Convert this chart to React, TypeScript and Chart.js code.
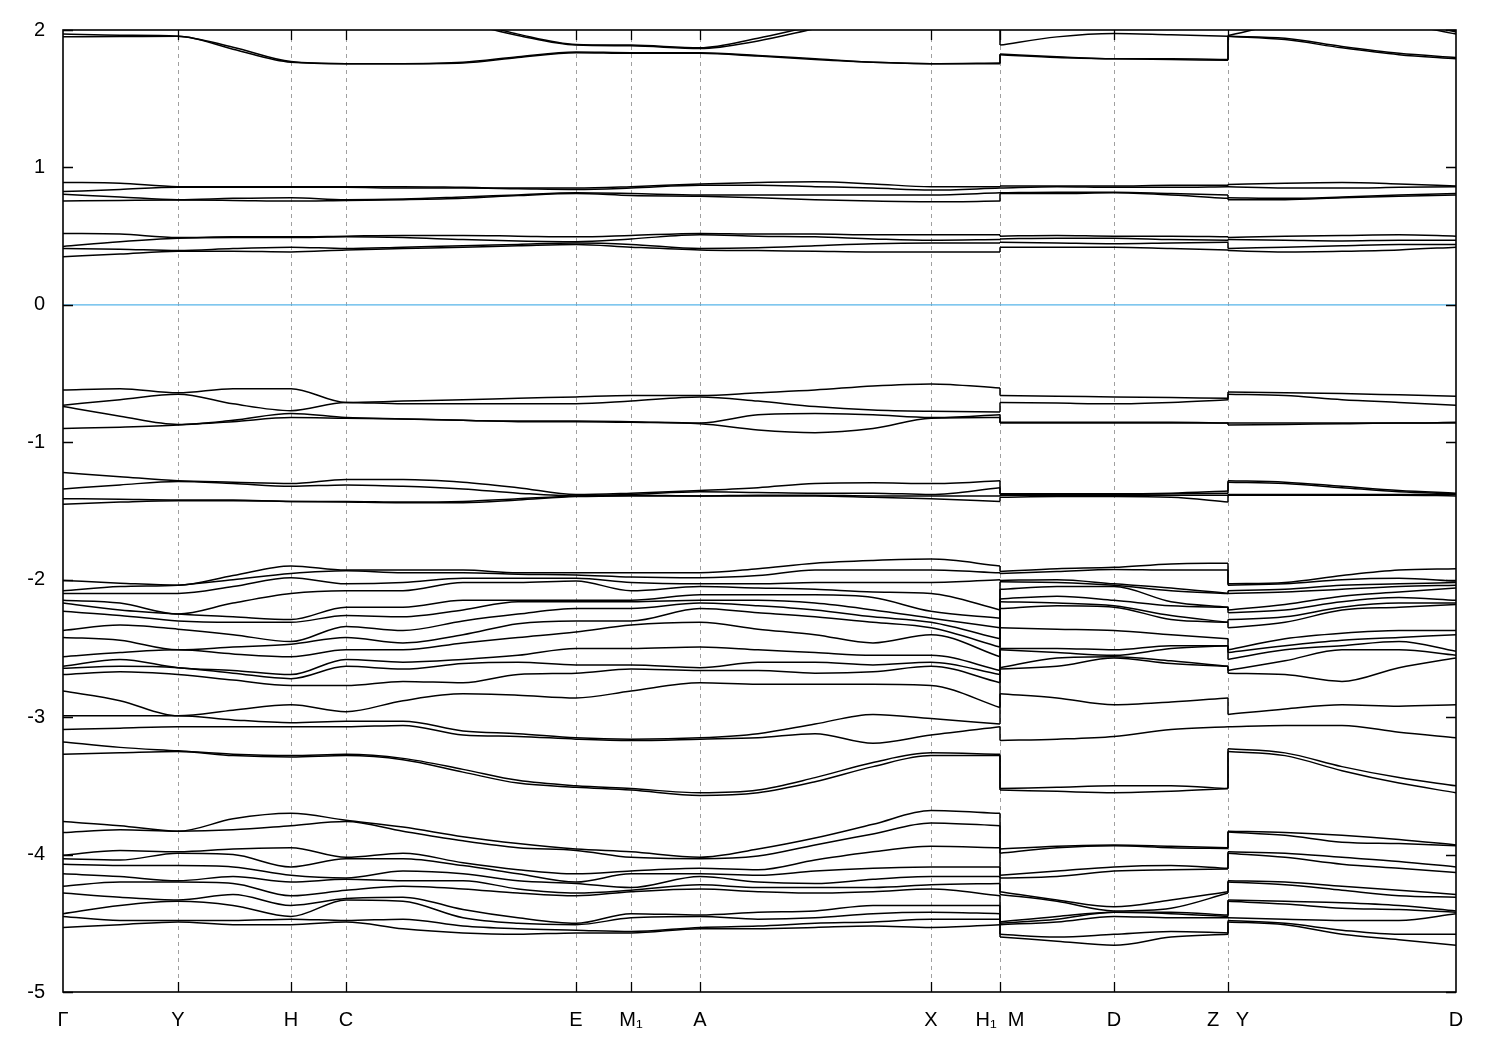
import React, { useEffect, useRef } from 'react';
import { Chart, registerables } from 'chart.js';
Chart.register(...registerables);

// k-path distances (arbitrary units). Duplicate entries mark path discontinuities (H1|M, Z|Y).
const kPath = [0, 57, 115, 170, 228, 283, 340, 400, 455, 513, 568, 637, 695, 752, 810, 868, 937, 937, 994, 1051, 1108, 1165, 1165, 1222, 1279, 1336, 1393];
const tickPos = [0, 115, 228, 283, 513, 568, 637, 868, 937, 1051, 1165, 1393];
const tickLabels = ['Γ', 'Y', 'H', 'C', 'E', 'M₁', 'A', 'X', 'H₁  M', 'D', 'Z   Y', 'D'];
const yTicks = [2, 1, 0, -1, -2, -3, -4, -5];

// band groups given band-by-band along the path (eV)
const topBands = [
  [1.95, 1.952, 1.955, 1.86, 1.765, 1.755, 1.755, 1.76, 1.80, 1.835, 1.83, 1.83, 1.81, 1.785, 1.765, 1.755, 1.755, 1.82, 1.80, 1.79, 1.785, 1.78, 1.955, 1.93, 1.87, 1.82, 1.79],
  [1.97, 1.962, 1.955, 1.875, 1.77, 1.755, 1.755, 1.765, 1.805, 1.84, 1.835, 1.835, 1.815, 1.79, 1.765, 1.755, 1.76, 1.825, 1.805, 1.79, 1.79, 1.785, 1.955, 1.94, 1.88, 1.83, 1.80],
  [2.1, 2.1, 2.1, 2.1, 2.1, 2.1, 2.1, 2.05, 1.96, 1.89, 1.885, 1.865, 1.92, 2.01, 2.1, 2.15, 2.15, 1.89, 1.95, 1.975, 1.965, 1.955, 1.96, 2.05, 2.1, 2.05, 1.97],
  [2.15, 2.15, 2.15, 2.15, 2.15, 2.15, 2.15, 2.07, 1.97, 1.895, 1.89, 1.87, 1.94, 2.03, 2.1, 2.2, 2.2, 2.1, 2.1, 2.1, 2.1, 2.1, 2.1, 2.1, 2.1, 2.08, 1.985],
];
const upperBands = [
  [0.756, 0.76, 0.763, 0.76, 0.755, 0.76, 0.765, 0.775, 0.795, 0.81, 0.795, 0.79, 0.78, 0.765, 0.755, 0.75, 0.755, 0.81, 0.81, 0.815, 0.80, 0.775, 0.765, 0.765, 0.78, 0.79, 0.80],
  [0.804, 0.785, 0.765, 0.775, 0.78, 0.765, 0.77, 0.785, 0.80, 0.815, 0.81, 0.80, 0.80, 0.80, 0.80, 0.80, 0.815, 0.815, 0.82, 0.82, 0.81, 0.80, 0.78, 0.775, 0.785, 0.80, 0.81],
  [0.824, 0.84, 0.855, 0.855, 0.855, 0.855, 0.85, 0.85, 0.845, 0.84, 0.85, 0.87, 0.87, 0.86, 0.85, 0.835, 0.85, 0.85, 0.86, 0.855, 0.855, 0.86, 0.86, 0.85, 0.85, 0.855, 0.86],
  [0.891, 0.885, 0.86, 0.86, 0.86, 0.86, 0.86, 0.855, 0.85, 0.85, 0.86, 0.88, 0.89, 0.895, 0.88, 0.86, 0.86, 0.865, 0.865, 0.865, 0.87, 0.87, 0.875, 0.885, 0.89, 0.88, 0.865],
];
const lowerCondBands = [
  [0.35, 0.37, 0.39, 0.39, 0.385, 0.40, 0.41, 0.42, 0.43, 0.44, 0.42, 0.40, 0.395, 0.39, 0.385, 0.385, 0.385, 0.42, 0.42, 0.42, 0.41, 0.40, 0.395, 0.385, 0.39, 0.40, 0.42],
  [0.41, 0.405, 0.395, 0.41, 0.42, 0.41, 0.42, 0.43, 0.44, 0.45, 0.44, 0.41, 0.415, 0.43, 0.445, 0.45, 0.45, 0.455, 0.45, 0.445, 0.45, 0.455, 0.41, 0.42, 0.43, 0.44, 0.44],
  [0.425, 0.46, 0.485, 0.49, 0.49, 0.495, 0.49, 0.475, 0.465, 0.46, 0.48, 0.51, 0.50, 0.495, 0.48, 0.47, 0.475, 0.48, 0.485, 0.485, 0.475, 0.47, 0.475, 0.47, 0.465, 0.47, 0.47],
  [0.52, 0.515, 0.49, 0.495, 0.495, 0.50, 0.505, 0.505, 0.50, 0.495, 0.505, 0.52, 0.515, 0.515, 0.51, 0.51, 0.51, 0.50, 0.505, 0.50, 0.50, 0.495, 0.49, 0.50, 0.505, 0.51, 0.50],
];
const valenceTopBands = [
  [-0.62, -0.61, -0.64, -0.61, -0.61, -0.71, -0.70, -0.69, -0.68, -0.67, -0.66, -0.66, -0.64, -0.62, -0.59, -0.575, -0.605, -0.66, -0.665, -0.67, -0.675, -0.68, -0.635, -0.64, -0.645, -0.655, -0.665],
  [-0.73, -0.69, -0.65, -0.72, -0.77, -0.71, -0.72, -0.72, -0.72, -0.72, -0.70, -0.67, -0.70, -0.74, -0.765, -0.775, -0.78, -0.71, -0.715, -0.72, -0.71, -0.69, -0.65, -0.66, -0.69, -0.71, -0.73],
  [-0.74, -0.81, -0.87, -0.84, -0.79, -0.82, -0.83, -0.84, -0.845, -0.845, -0.85, -0.86, -0.80, -0.79, -0.80, -0.82, -0.80, -0.855, -0.855, -0.855, -0.855, -0.86, -0.86, -0.86, -0.86, -0.86, -0.855],
  [-0.90, -0.89, -0.875, -0.85, -0.82, -0.825, -0.83, -0.84, -0.85, -0.85, -0.855, -0.865, -0.91, -0.93, -0.90, -0.825, -0.82, -0.86, -0.86, -0.86, -0.86, -0.86, -0.875, -0.87, -0.865, -0.86, -0.86],
];
const valenceSecondBands = [
  [-1.22, -1.25, -1.28, -1.29, -1.30, -1.27, -1.27, -1.29, -1.33, -1.38, -1.37, -1.35, -1.33, -1.30, -1.295, -1.30, -1.28, -1.375, -1.375, -1.375, -1.37, -1.355, -1.28, -1.29, -1.32, -1.35, -1.37],
  [-1.34, -1.31, -1.285, -1.30, -1.32, -1.31, -1.32, -1.34, -1.37, -1.39, -1.38, -1.36, -1.365, -1.37, -1.37, -1.38, -1.33, -1.38, -1.38, -1.38, -1.375, -1.37, -1.29, -1.30, -1.33, -1.36, -1.375],
  [-1.41, -1.415, -1.42, -1.42, -1.43, -1.43, -1.435, -1.43, -1.41, -1.39, -1.385, -1.39, -1.385, -1.385, -1.39, -1.39, -1.39, -1.385, -1.385, -1.385, -1.385, -1.385, -1.38, -1.38, -1.38, -1.38, -1.38],
  [-1.45, -1.435, -1.425, -1.425, -1.43, -1.435, -1.44, -1.44, -1.42, -1.395, -1.39, -1.39, -1.39, -1.39, -1.40, -1.41, -1.43, -1.40, -1.395, -1.395, -1.40, -1.435, -1.385, -1.385, -1.385, -1.385, -1.39],
];
const deepPairBands = [
  [-3.18, -3.22, -3.245, -3.27, -3.28, -3.27, -3.30, -3.38, -3.46, -3.50, -3.52, -3.55, -3.53, -3.44, -3.33, -3.26, -3.27, -3.52, -3.51, -3.50, -3.50, -3.52, -3.23, -3.26, -3.36, -3.44, -3.50],
  [-3.27, -3.26, -3.25, -3.28, -3.29, -3.28, -3.31, -3.40, -3.48, -3.51, -3.53, -3.57, -3.55, -3.47, -3.36, -3.28, -3.28, -3.53, -3.54, -3.55, -3.54, -3.52, -3.25, -3.28, -3.39, -3.48, -3.55],
];

// dense groups given as energies at each k-point (one row per kPath entry)
const denseRows = [
  [-2.005, -2.08, -2.10, -2.15, -2.17, -2.23, -2.37, -2.42, -2.56, -2.63, -2.645, -2.69, -2.81, -2.99, -3.09],
  [-2.025, -2.05, -2.10, -2.17, -2.22, -2.26, -2.33, -2.44, -2.53, -2.58, -2.63, -2.67, -2.88, -2.99, -3.08],
  [-2.04, -2.04, -2.10, -2.25, -2.25, -2.30, -2.36, -2.51, -2.51, -2.64, -2.64, -2.69, -2.99, -2.99, -3.07],
  [-1.97, -2.00, -2.05, -2.17, -2.27, -2.31, -2.40, -2.49, -2.54, -2.66, -2.68, -2.73, -2.95, -3.02, -3.07],
  [-1.90, -1.955, -1.985, -2.10, -2.29, -2.31, -2.45, -2.47, -2.56, -2.69, -2.72, -2.77, -2.91, -3.04, -3.07],
  [-1.93, -1.935, -2.03, -2.08, -2.20, -2.26, -2.34, -2.42, -2.51, -2.58, -2.63, -2.77, -2.96, -3.03, -3.07],
  [-1.93, -1.95, -2.02, -2.08, -2.20, -2.27, -2.37, -2.46, -2.51, -2.60, -2.65, -2.74, -2.88, -3.03, -3.06],
  [-1.93, -1.95, -1.99, -2.02, -2.15, -2.22, -2.30, -2.40, -2.46, -2.58, -2.61, -2.75, -2.83, -3.10, -3.13],
  [-1.95, -1.96, -1.99, -2.02, -2.15, -2.16, -2.25, -2.32, -2.42, -2.55, -2.60, -2.69, -2.84, -3.12, -3.14],
  [-1.95, -1.965, -1.99, -2.01, -2.15, -2.16, -2.21, -2.30, -2.38, -2.50, -2.62, -2.68, -2.86, -3.15, -3.16],
  [-1.95, -1.98, -2.02, -2.08, -2.15, -2.16, -2.21, -2.30, -2.33, -2.50, -2.62, -2.65, -2.81, -3.16, -3.17],
  [-1.95, -1.985, -2.03, -2.05, -2.11, -2.15, -2.17, -2.21, -2.31, -2.49, -2.64, -2.66, -2.75, -3.15, -3.16],
  [-1.92, -1.97, -2.03, -2.06, -2.11, -2.15, -2.19, -2.24, -2.36, -2.51, -2.60, -2.66, -2.76, -3.12, -3.15],
  [-1.88, -1.93, -2.02, -2.07, -2.11, -2.17, -2.22, -2.27, -2.40, -2.53, -2.60, -2.68, -2.76, -3.05, -3.12],
  [-1.86, -1.93, -2.02, -2.09, -2.13, -2.22, -2.27, -2.31, -2.46, -2.55, -2.62, -2.67, -2.76, -2.98, -3.19],
  [-1.85, -1.93, -2.02, -2.10, -2.23, -2.28, -2.31, -2.35, -2.40, -2.55, -2.60, -2.63, -2.77, -3.01, -3.13],
  [-1.90, -1.95, -2.00, -2.22, -2.28, -2.35, -2.43, -2.49, -2.56, -2.66, -2.69, -2.75, -2.93, -3.05, -3.07],
  [-1.94, -1.955, -2.005, -2.015, -2.07, -2.14, -2.16, -2.21, -2.35, -2.50, -2.51, -2.64, -2.65, -2.83, -3.17],
  [-1.92, -1.94, -2.00, -2.02, -2.05, -2.12, -2.17, -2.19, -2.36, -2.50, -2.53, -2.57, -2.63, -2.86, -3.16],
  [-1.91, -1.925, -2.03, -2.04, -2.05, -2.15, -2.19, -2.20, -2.37, -2.51, -2.55, -2.56, -2.57, -2.91, -3.14],
  [-1.885, -1.93, -2.06, -2.08, -2.16, -2.19, -2.26, -2.29, -2.40, -2.48, -2.50, -2.59, -2.61, -2.89, -3.09],
  [-1.88, -1.93, -2.10, -2.10, -2.20, -2.20, -2.31, -2.31, -2.43, -2.48, -2.48, -2.63, -2.63, -2.86, -3.07],
  [-2.03, -2.04, -2.08, -2.10, -2.22, -2.24, -2.29, -2.35, -2.51, -2.53, -2.58, -2.66, -2.68, -2.98, -3.07],
  [-2.02, -2.03, -2.07, -2.09, -2.18, -2.22, -2.27, -2.31, -2.43, -2.48, -2.51, -2.59, -2.69, -2.94, -3.06],
  [-1.97, -2.00, -2.04, -2.07, -2.12, -2.16, -2.20, -2.22, -2.39, -2.44, -2.48, -2.51, -2.74, -2.91, -3.06],
  [-1.93, -1.99, -2.03, -2.05, -2.09, -2.13, -2.17, -2.20, -2.37, -2.42, -2.45, -2.51, -2.64, -2.92, -3.11],
  [-1.92, -2.01, -2.02, -2.04, -2.06, -2.15, -2.17, -2.18, -2.37, -2.40, -2.52, -2.55, -2.57, -2.91, -3.15],
];
const lowRows = [
  [-3.76, -3.84, -4.005, -4.03, -4.07, -4.14, -4.23, -4.28, -4.43, -4.45, -4.53],
  [-3.79, -3.82, -3.97, -4.04, -4.08, -4.16, -4.20, -4.31, -4.37, -4.48, -4.51],
  [-3.83, -3.83, -3.98, -3.99, -4.08, -4.19, -4.20, -4.33, -4.34, -4.48, -4.49],
  [-3.74, -3.82, -3.96, -4.00, -4.09, -4.16, -4.21, -4.29, -4.37, -4.48, -4.51],
  [-3.70, -3.79, -3.95, -4.09, -4.15, -4.20, -4.30, -4.37, -4.45, -4.47, -4.51],
  [-3.75, -3.76, -4.02, -4.03, -4.17, -4.18, -4.26, -4.32, -4.33, -4.48, -4.49],
  [-3.80, -3.83, -3.99, -4.03, -4.12, -4.19, -4.23, -4.31, -4.34, -4.47, -4.54],
  [-3.87, -3.90, -4.06, -4.08, -4.14, -4.19, -4.25, -4.40, -4.46, -4.52, -4.57],
  [-3.92, -3.95, -4.11, -4.14, -4.19, -4.25, -4.28, -4.46, -4.50, -4.54, -4.58],
  [-3.96, -3.97, -4.14, -4.20, -4.21, -4.28, -4.30, -4.50, -4.51, -4.55, -4.57],
  [-3.98, -4.02, -4.12, -4.14, -4.24, -4.26, -4.27, -4.43, -4.46, -4.56, -4.57],
  [-4.02, -4.03, -4.10, -4.14, -4.16, -4.22, -4.25, -4.44, -4.45, -4.53, -4.54],
  [-3.96, -4.01, -4.11, -4.15, -4.20, -4.24, -4.27, -4.42, -4.47, -4.52, -4.54],
  [-3.88, -3.93, -4.04, -4.12, -4.21, -4.24, -4.28, -4.41, -4.46, -4.50, -4.53],
  [-3.78, -3.85, -3.98, -4.10, -4.18, -4.24, -4.27, -4.37, -4.43, -4.49, -4.52],
  [-3.68, -3.77, -3.94, -4.09, -4.16, -4.22, -4.25, -4.37, -4.42, -4.47, -4.53],
  [-3.70, -3.79, -3.95, -4.09, -4.16, -4.21, -4.30, -4.37, -4.43, -4.47, -4.51],
  [-3.96, -3.99, -4.15, -4.17, -4.27, -4.29, -4.49, -4.50, -4.51, -4.58, -4.60],
  [-3.94, -3.95, -4.12, -4.16, -4.33, -4.34, -4.45, -4.47, -4.49, -4.60, -4.63],
  [-3.93, -3.935, -4.09, -4.12, -4.38, -4.41, -4.42, -4.42, -4.45, -4.58, -4.66],
  [-3.94, -3.95, -4.08, -4.11, -4.33, -4.39, -4.42, -4.43, -4.46, -4.56, -4.60],
  [-3.95, -3.955, -4.10, -4.105, -4.27, -4.28, -4.44, -4.45, -4.46, -4.57, -4.58],
  [-3.83, -3.835, -3.98, -3.99, -4.19, -4.20, -4.33, -4.34, -4.46, -4.48, -4.49],
  [-3.84, -3.86, -3.99, -4.02, -4.20, -4.22, -4.34, -4.36, -4.47, -4.50, -4.51],
  [-3.86, -3.91, -4.02, -4.07, -4.23, -4.26, -4.35, -4.39, -4.48, -4.55, -4.58],
  [-3.89, -3.92, -4.05, -4.10, -4.26, -4.30, -4.37, -4.40, -4.48, -4.58, -4.62],
  [-3.93, -3.935, -4.09, -4.13, -4.29, -4.31, -4.41, -4.42, -4.43, -4.58, -4.66],
];

const segments = [[0, 16], [17, 21], [22, 26]];
const jumps = [[16, 17], [21, 22]];
const FONT = '"Liberation Sans", Arial, Helvetica, sans-serif';

function rowsFromBands(b: number[][]): number[][] {
  return b[0].map((_, j) => b.map((r) => r[j]));
}
function sortedBands(rows: number[][]): number[][] {
  const s = rows.map((r) => [...r].sort((a, c) => c - a));
  return s[0].map((_, i) => s.map((r) => r[i]));
}

function buildDatasets() {
  const groups = [
    rowsFromBands(topBands),
    rowsFromBands(upperBands),
    rowsFromBands(lowerCondBands),
    rowsFromBands(valenceTopBands),
    rowsFromBands(valenceSecondBands),
    denseRows,
    rowsFromBands(deepPairBands),
    lowRows,
  ];
  const style = {
    borderColor: '#000000',
    borderWidth: 1.5,
    pointRadius: 0,
    fill: false,
  };
  const ds: any[] = [];
  for (const g of groups) {
    for (const band of sortedBands(g)) {
      for (const [a, b] of segments) {
        ds.push({
          ...style,
          cubicInterpolationMode: 'monotone',
          data: band.slice(a, b + 1).map((y, j) => ({ x: kPath[a + j], y })),
        });
      }
      for (const [a, b] of jumps) {
        ds.push({
          ...style,
          tension: 0,
          data: [
            { x: kPath[a], y: band[a] },
            { x: kPath[b], y: band[b] },
          ],
        });
      }
    }
  }
  ds.push({
    borderColor: '#56b4e9',
    borderWidth: 1.2,
    pointRadius: 0,
    tension: 0,
    data: [
      { x: kPath[0], y: 0 },
      { x: kPath[kPath.length - 1], y: 0 },
    ],
  });
  return ds;
}

const framePlugin = {
  id: 'frame',
  beforeDatasetsDraw(chart: any) {
    const { ctx, chartArea } = chart;
    const xs = chart.scales.x;
    ctx.save();
    ctx.strokeStyle = '#a0a0a0';
    ctx.lineWidth = 1;
    ctx.setLineDash([4, 4]);
    for (let i = 1; i < tickPos.length - 1; i++) {
      const px = Math.round(xs.getPixelForValue(tickPos[i])) + 0.5;
      ctx.beginPath();
      ctx.moveTo(px, chartArea.top);
      ctx.lineTo(px, chartArea.bottom);
      ctx.stroke();
    }
    ctx.restore();
  },
  afterDatasetsDraw(chart: any) {
    const { ctx, chartArea } = chart;
    const xs = chart.scales.x;
    const ys = chart.scales.y;
    const { left, right, top, bottom } = chartArea;
    const tl = 10;
    ctx.save();
    ctx.strokeStyle = '#000';
    ctx.lineWidth = 1.6;
    ctx.setLineDash([]);
    ctx.strokeRect(left, top, right - left, bottom - top);
    ctx.lineWidth = 1.3;
    ctx.beginPath();
    for (const v of yTicks) {
      const py = Math.round(ys.getPixelForValue(v)) + 0.5;
      ctx.moveTo(left, py);
      ctx.lineTo(left + tl, py);
      ctx.moveTo(right, py);
      ctx.lineTo(right - tl, py);
    }
    for (let i = 1; i < tickPos.length - 1; i++) {
      const px = Math.round(xs.getPixelForValue(tickPos[i])) + 0.5;
      ctx.moveTo(px, bottom);
      ctx.lineTo(px, bottom - tl);
      ctx.moveTo(px, top);
      ctx.lineTo(px, top + tl);
    }
    ctx.stroke();
    ctx.restore();
  },
};

export default function App() {
  const ref = useRef<HTMLCanvasElement | null>(null);
  useEffect(() => {
    if (!ref.current) return;
    document.body.style.margin = '0';
    const chart = new Chart(ref.current, {
      type: 'line',
      data: { datasets: buildDatasets() },
      options: {
        animation: false,
        responsive: false,
        devicePixelRatio: 1,
        events: [],
        layout: { padding: { left: 0, right: 44, top: 28, bottom: 0 } },
        plugins: { legend: { display: false }, tooltip: { enabled: false } },
        scales: {
          x: {
            type: 'linear',
            min: kPath[0],
            max: kPath[kPath.length - 1],
            grid: { display: false, drawTicks: false },
            border: { display: false },
            afterBuildTicks: (s: any) => {
              s.ticks = tickPos.map((v) => ({ value: v }));
            },
            afterFit: (s: any) => {
              s.height = 58;
            },
            ticks: {
              autoSkip: false,
              maxRotation: 0,
              minRotation: 0,
              padding: 16,
              color: '#000',
              font: { family: FONT, size: 20 },
              callback: (_v: any, i: number) => tickLabels[i],
            },
          },
          y: {
            type: 'linear',
            min: -5,
            max: 2,
            grid: { display: false, drawTicks: false },
            border: { display: false },
            afterBuildTicks: (s: any) => {
              s.ticks = yTicks.map((v) => ({ value: v }));
            },
            afterFit: (s: any) => {
              s.width = 63;
            },
            ticks: {
              padding: 18,
              color: '#000',
              font: { family: FONT, size: 20 },
              callback: (v: any) => String(v),
            },
          },
        },
      },
      plugins: [framePlugin],
    });
    return () => chart.destroy();
  }, []);
  return (
    <div style={{ position: 'absolute', left: 0, top: 0, width: 1500, height: 1050, background: '#fff' }}>
      <canvas ref={ref} width={1500} height={1050} style={{ display: 'block' }} />
    </div>
  );
}
